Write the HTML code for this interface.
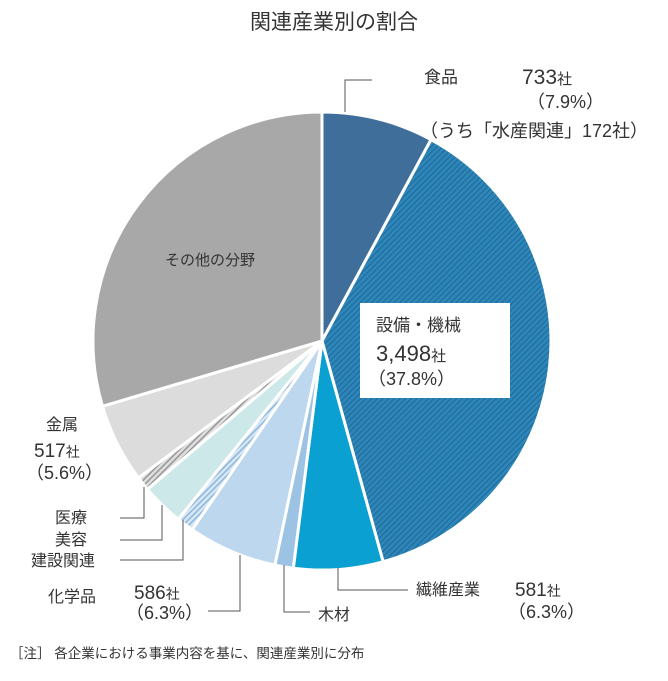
<!DOCTYPE html>
<html><head><meta charset="utf-8"><style>
body{margin:0;background:#fff;}
svg{display:block;font-family:"Liberation Sans","Noto Sans CJK JP",sans-serif;}
</style></head><body>
<svg id="chart" width="668" height="681" viewBox="0 0 668 681" xmlns="http://www.w3.org/2000/svg">
<defs>
<pattern id="pBlue" patternUnits="userSpaceOnUse" width="4" height="4" patternTransform="rotate(45)"><rect width="4" height="4" fill="#2f86b8"/><rect width="1.3" height="4" fill="#1f6f9f"/></pattern>
<pattern id="pLight" patternUnits="userSpaceOnUse" width="4" height="4" patternTransform="rotate(45)"><rect width="4" height="4" fill="#d8e8f5"/><rect width="1.6" height="4" fill="#8fb8dd"/></pattern>
<pattern id="pGrey" patternUnits="userSpaceOnUse" width="4" height="4" patternTransform="rotate(45)"><rect width="4" height="4" fill="#e0e0e0"/><rect width="1.6" height="4" fill="#999"/></pattern>
</defs>
<text x="334" y="29" text-anchor="middle" font-size="21" fill="#333">関連産業別の割合</text>
<g id="slices"></g>
<g fill="#333" stroke="none">
<polyline points="345,112 345,80 372,80" fill="none" stroke="#555" stroke-width="1"/>
<text x="424" y="83" font-size="17">食品</text>
<text x="522" y="84" font-size="21">733<tspan font-size="15">社</tspan></text>
<text x="527" y="108" font-size="18">（7.9%）</text>
<text x="420" y="137" font-size="18">（うち「水産関連」172社）</text>
<rect x="360" y="303" width="150" height="95" fill="#fff"/>
<text x="376" y="331" font-size="17">設備・機械</text>
<text x="376" y="361" font-size="22">3,498<tspan font-size="15">社</tspan></text>
<text x="368" y="385" font-size="18">（37.8%）</text>
<text x="165" y="265" font-size="15">その他の分野</text>
<text x="46" y="430" font-size="16">金属</text>
<text x="34" y="457" font-size="19">517<tspan font-size="14">社</tspan></text>
<text x="26" y="479" font-size="18">（5.6%）</text>
<polyline points="144,487 144,518 120,518" fill="none" stroke="#555"/>
<text x="55" y="523" font-size="16">医療</text>
<polyline points="162,505 162,540 120,540" fill="none" stroke="#555"/>
<text x="55" y="545" font-size="16">美容</text>
<polyline points="183,520 183,560 120,560" fill="none" stroke="#555"/>
<text x="31" y="566" font-size="16">建設関連</text>
<text x="48" y="602" font-size="16">化学品</text>
<text x="134" y="599" font-size="19">586<tspan font-size="14">社</tspan></text>
<text x="126" y="619" font-size="18">（6.3%）</text>
<polyline points="240,555 240,611 208,611" fill="none" stroke="#555"/>
<polyline points="284,565 284,612 310,612" fill="none" stroke="#555"/>
<text x="318" y="620" font-size="16">木材</text>
<polyline points="338,568 338,590 408,590" fill="none" stroke="#555"/>
<text x="416" y="595" font-size="16">繊維産業</text>
<text x="515" y="596" font-size="19">581<tspan font-size="14">社</tspan></text>
<text x="508" y="618" font-size="18">（6.3%）</text>
<text x="10" y="658" font-size="13.5">［注］ 各企業における事業内容を基に、関連産業別に分布</text>
</g>
</svg>
<script>
const categories=["食品","設備・機械","繊維産業","木材","化学品","建設関連","美容","医療","金属","その他の分野"];
const shares=[7.9,37.8,6.3,1.3,6.3,1.2,3.0,1.0,5.6,29.6];
const fills=["#3e6e99","url(#pBlue)","#0aa0d2","#9cc3e4","#bdd7ee","url(#pLight)","#cde8e8","url(#pGrey)","#dcdcdc","#a8a8a8"];
const sliceNames=["slice-food","slice-machinery","slice-textile","slice-wood","slice-chemical","slice-construction","slice-beauty","slice-medical","slice-metal","slice-other"];
const cx=322,cy=341,r=229;
function pt(frac){const a=frac*2*Math.PI;return [cx+r*Math.sin(a),cy-r*Math.cos(a)];}
const g=document.getElementById('slices');
const total=shares.reduce((a,b)=>a+b,0);
let acc=0;
shares.forEach((v,i)=>{
  const s=acc/total,e=(acc+v)/total;acc+=v;
  const [x1,y1]=pt(s),[x2,y2]=pt(e);
  const large=(e-s)>0.5?1:0;
  const p=document.createElementNS('http://www.w3.org/2000/svg','path');
  p.setAttribute('d',`M${cx},${cy} L${x1},${y1} A${r},${r} 0 ${large} 1 ${x2},${y2} Z`);
  p.setAttribute('fill',fills[i]);
  p.setAttribute('stroke','#fff');
  p.setAttribute('stroke-width','3');
  p.setAttribute('stroke-linejoin','round');
  
  
  g.appendChild(p);
});
</script>
</body></html>
